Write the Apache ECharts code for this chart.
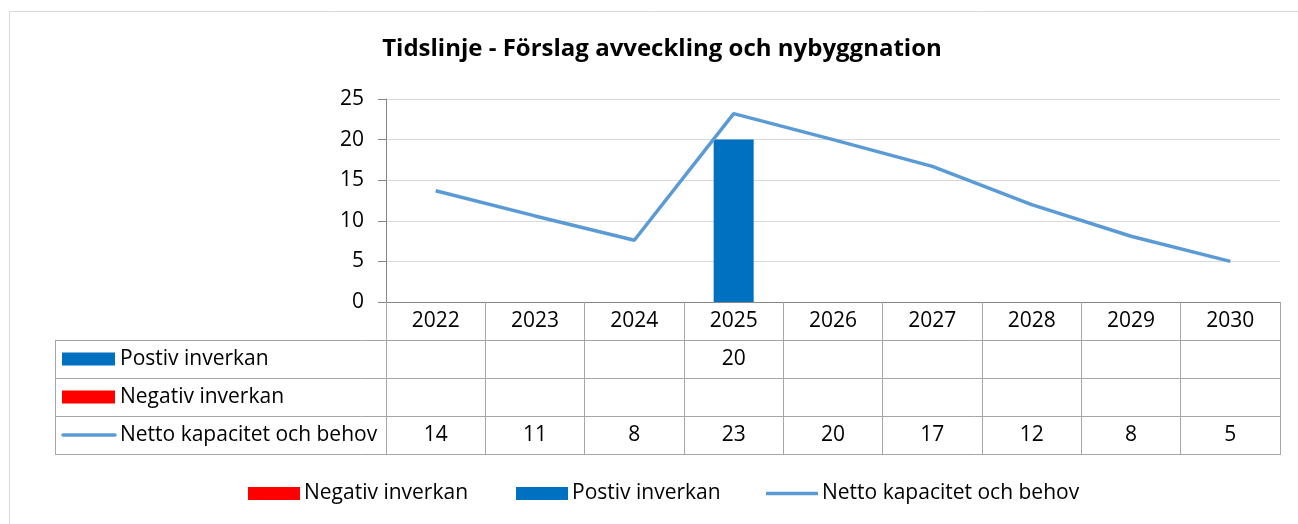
<!DOCTYPE html>
<html>
<head>
<meta charset="utf-8">
<script src="https://cdn.jsdelivr.net/npm/echarts@6/dist/echarts.min.js"></script>
<style>
  html, body { margin: 0; padding: 0; background: #fff; }
  #main { width: 1298px; height: 524px; }
</style>
</head>
<body>
<div id="main"></div>
<script>
// data
let years = ["2022", "2023", "2024", "2025", "2026", "2027", "2028", "2029", "2030"];
let positiv = [null, null, null, 20, null, null, null, null, null];
let negativ = [null, null, null, null, null, null, null, null, null];
let netto = [13.7, 10.6, 7.6, 23.2, 20.0, 16.7, 12.0, 8.1, 5.0];
let yTicks = [0, 5, 10, 15, 20, 25];

let namePos = "Postiv inverkan";
let nameNeg = "Negativ inverkan";
let nameNet = "Netto kapacitet och behov";

let font = "Open Sans";
let fs = 21;
let gridColor = "#a6a6a6";

function cell(arr) {
    return function (value, index) {
        let v = arr[index];
        return (v === null || v === undefined) ? "" : String(Math.round(v));
    };
}

// extra x axes used as the rows of the data table
function rowAxis(offset, arr) {
    return {
        type: "category",
        data: years,
        position: "bottom",
        offset: offset,
        axisLine: { show: false },
        axisTick: { show: false },
        axisLabel: {
            margin: 19,
            verticalAlign: "middle",
            fontFamily: font,
            fontSize: fs,
            color: "#000",
            formatter: cell(arr)
        }
    };
}

let myChart = echarts.init(document.getElementById("main"));

let rowY = [359, 397, 435];
let graphics = [
    { type: "rect", shape: { x: 9.5, y: 11.5, width: 1400, height: 600 }, style: { fill: "none", stroke: "#d9d9d9", lineWidth: 1 }, silent: true },
    { type: "line", shape: { x1: 55.5, y1: 340, x2: 55.5, y2: 454.5 }, style: { stroke: gridColor, lineWidth: 1 } }
];
[340.5, 378.5, 416.5, 454.5].forEach(function (y) {
    graphics.push({ type: "line", shape: { x1: 55, y1: y, x2: 1281, y2: y }, style: { stroke: gridColor, lineWidth: 1 } });
});
graphics.push({ type: "rect", shape: { x: 62, y: rowY[0] - 6.5, width: 53, height: 13 }, style: { fill: "#0070c0" } });
graphics.push({ type: "rect", shape: { x: 62, y: rowY[1] - 6.5, width: 53, height: 13 }, style: { fill: "#ff0000" } });
graphics.push({ type: "line", shape: { x1: 63, y1: rowY[2], x2: 115, y2: rowY[2] }, style: { stroke: "#5b9bd5", lineWidth: 3.5, lineCap: "round" } });
[namePos, nameNeg, nameNet].forEach(function (n, i) {
    graphics.push({ type: "text", x: 120, y: rowY[i], style: { text: n, fontFamily: font, fontSize: fs, fill: "#000", verticalAlign: "middle" } });
});

// thin line icon: the extra move-to points keep the full 13px box
let lineIcon = "path://M0,0M0,13M0,4.8H52V8.2H0Z";

function legendAt(left, name, icon) {
    return {
        left: left,
        top: 483,
        padding: 0,
        data: [{ name: name, icon: icon }],
        itemWidth: 52,
        itemHeight: 13,
        textStyle: { fontFamily: font, fontSize: fs, color: "#000", padding: [0, 0, 0, -1] },
        itemStyle: { borderWidth: 0 },
        selectedMode: false
    };
}

let option = {
    animation: false,
    title: {
        text: "Tidslinje - Förslag avveckling och nybyggnation",
        left: 657,
        textAlign: "center",
        top: 32,
        textStyle: { fontFamily: font, fontSize: 24, fontWeight: "bold", color: "#000" }
    },
    legend: [
        legendAt(248, nameNeg, "rect"),
        legendAt(516, namePos, "rect"),
        legendAt(766, nameNet, lineIcon)
    ],
    grid: { left: 386, right: 18, top: 99, bottom: 222 },
    xAxis: [
        {
            type: "category",
            data: years,
            boundaryGap: true,
            axisLine: { lineStyle: { color: "#868686", width: 1 } },
            axisTick: { show: true, length: 152, lineStyle: { color: gridColor } },
            axisLabel: { margin: 19, verticalAlign: "middle", fontFamily: font, fontSize: fs, color: "#000" }
        },
        rowAxis(38, positiv),
        rowAxis(76, negativ),
        rowAxis(114, netto)
    ],
    yAxis: {
        type: "value",
        min: yTicks[0],
        max: yTicks[yTicks.length - 1],
        interval: 5,
        axisLine: { show: true, lineStyle: { color: "#868686" } },
        axisTick: { show: true, length: 8, lineStyle: { color: "#868686" } },
        axisLabel: { margin: 22, fontFamily: font, fontSize: fs, color: "#000" },
        splitLine: { lineStyle: { color: "#d9d9d9" } }
    },
    graphic: graphics,
    series: [
        {
            name: namePos,
            type: "bar",
            stack: "imp",
            data: positiv,
            barWidth: 40,
            itemStyle: { color: "#0070c0" }
        },
        {
            name: nameNeg,
            type: "bar",
            stack: "imp",
            data: negativ,
            barWidth: 40,
            itemStyle: { color: "#ff0000" }
        },
        {
            name: nameNet,
            type: "line",
            data: netto,
            symbol: "none",
            lineStyle: { color: "#5b9bd5", width: 3.5 },
            itemStyle: { color: "#5b9bd5" }
        }
    ]
};

myChart.setOption(option);
</script>
</body>
</html>
